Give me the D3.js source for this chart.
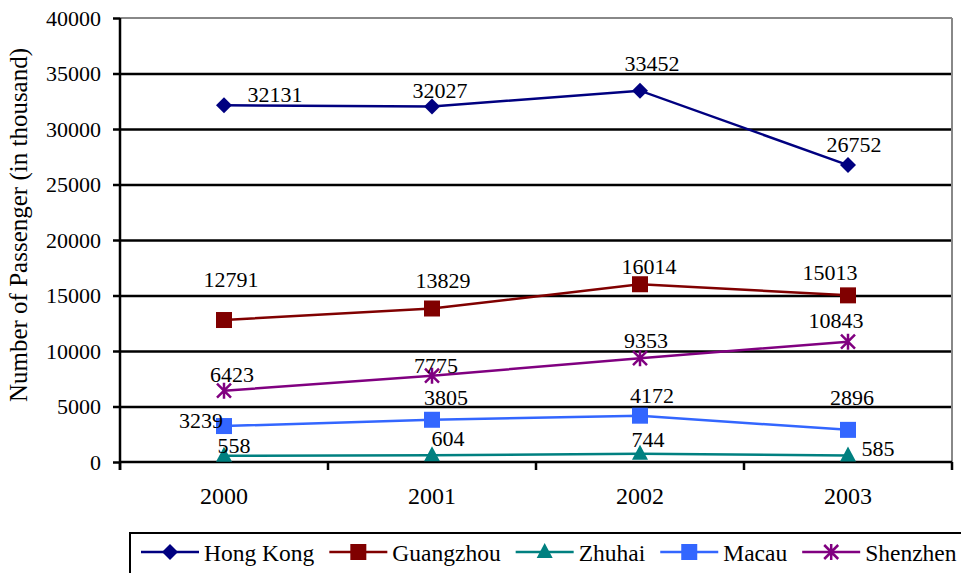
<!DOCTYPE html>
<html>
<head>
<meta charset="utf-8">
<script src="https://cdn.jsdelivr.net/npm/d3@7"></script>
<style>
  body { margin: 0; background: white; }
</style>
</head>
<body>
<script>
var years = ["2000", "2001", "2002", "2003"];
var hongKong = [32131, 32027, 33452, 26752];
var guangzhou = [12791, 13829, 16014, 15013];
var zhuhai = [558, 604, 744, 585];
var macau = [3239, 3805, 4172, 2896];
var shenzhen = [6423, 7775, 9353, 10843];
var yTicks = [0, 5000, 10000, 15000, 20000, 25000, 30000, 35000, 40000];

// label nudges (dx, dy from the point), like Excel put them
var labelNudge = {
  "Hong Kong": [[51, -3], [8, -9], [12, -20], [6, -13]],
  "Guangzhou": [[7, -33], [11, -20], [9, -10], [-18, -15]],
  "Zhuhai": [[10, -3], [16, -9], [8, -7], [30, 0]],
  "Macau": [[-23, 2], [14, -15], [12, -13], [4, -25]],
  "Shenzhen": [[8, -9], [4, -3], [6, -10], [-12, -14]]
};

var series = [
  { name: "Hong Kong", values: hongKong, color: "#000080", marker: "diamond" },
  { name: "Guangzhou", values: guangzhou, color: "#800000", marker: "square" },
  { name: "Zhuhai", values: zhuhai, color: "#008080", marker: "triangle" },
  { name: "Macau", values: macau, color: "#3366FF", marker: "square" },
  { name: "Shenzhen", values: shenzhen, color: "#800080", marker: "star" }
];

var FONT = "'Liberation Serif'";
var width = 961, height = 573;
var plot = { left: 120, right: 952, top: 18, bottom: 462 };

var svg = d3.select("body").append("svg")
  .attr("width", width)
  .attr("height", height)
  .style("display", "block")
  .style("font-family", FONT);

var x = d3.scaleBand().domain(years).range([plot.left, plot.right]).padding(0);
var y = d3.scaleLinear().domain([0, 40000]).range([plot.bottom, plot.top]);
function cx(i) { return x(years[i]) + x.bandwidth() / 2; }

// grid lines
svg.append("g")
  .attr("transform", "translate(" + plot.left + ",0)")
  .call(d3.axisLeft(y).tickValues(yTicks.slice(1, -1)).tickSize(-(plot.right - plot.left)).tickFormat(""))
  .call(function(g) {
    g.select(".domain").remove();
    g.selectAll("line").attr("stroke", "#000").attr("stroke-width", 2.5);
  });

// plot border top / right (grey)
svg.append("line").attr("x1", plot.left).attr("x2", plot.right)
  .attr("y1", plot.top).attr("y2", plot.top)
  .attr("stroke", "#888").attr("stroke-width", 2);
svg.append("line").attr("x1", plot.right).attr("x2", plot.right)
  .attr("y1", plot.top).attr("y2", plot.bottom)
  .attr("stroke", "#888").attr("stroke-width", 2);

// y axis
svg.append("g")
  .attr("transform", "translate(" + plot.left + ",0)")
  .call(d3.axisLeft(y).tickValues(yTicks).tickSize(7).tickPadding(12).tickFormat(d3.format("d")))
  .call(function(g) {
    g.select(".domain").remove();
    g.selectAll("line").attr("stroke", "#000").attr("stroke-width", 2.5);
    g.selectAll("text").attr("font-size", 22).attr("fill", "#000").style("font-family", FONT);
  });

// x axis labels
svg.append("g")
  .attr("transform", "translate(0," + plot.bottom + ")")
  .call(d3.axisBottom(x).tickSize(0).tickPadding(25))
  .call(function(g) {
    g.select(".domain").remove();
    g.selectAll("text").attr("font-size", 24).attr("fill", "#000").style("font-family", FONT);
  });

// x boundary ticks
var edges = years.map(function(d) { return x(d); }).concat([plot.right]);
svg.append("g").selectAll("line").data(edges).join("line")
  .attr("x1", function(d) { return d; }).attr("x2", function(d) { return d; })
  .attr("y1", plot.bottom).attr("y2", plot.bottom + 8)
  .attr("stroke", "#000").attr("stroke-width", 2.5);

// axis lines
svg.append("line").attr("x1", plot.left).attr("x2", plot.right)
  .attr("y1", plot.bottom).attr("y2", plot.bottom)
  .attr("stroke", "#000").attr("stroke-width", 2.5);
svg.append("line").attr("x1", plot.left).attr("x2", plot.left)
  .attr("y1", plot.top).attr("y2", plot.bottom + 8)
  .attr("stroke", "#000").attr("stroke-width", 2.5);

// y title
svg.append("text")
  .attr("transform", "translate(27,225) rotate(-90)")
  .attr("text-anchor", "middle")
  .attr("font-size", 25)
  .style("font-family", FONT)
  .text("Number of Passenger (in thousand)");

function drawMarker(g, type, color, px, py) {
  if (type === "diamond") {
    g.append("path")
      .attr("d", "M" + px + "," + (py - 8) + "L" + (px + 8) + "," + py + "L" + px + "," + (py + 8) + "L" + (px - 8) + "," + py + "Z")
      .attr("fill", color);
  } else if (type === "square") {
    g.append("rect").attr("x", px - 8).attr("y", py - 8)
      .attr("width", 16).attr("height", 16).attr("fill", color);
  } else if (type === "triangle") {
    g.append("path").attr("d", "M" + px + "," + (py - 9) + "L" + (px + 8) + "," + (py + 6) + "L" + (px - 8) + "," + (py + 6) + "Z")
      .attr("fill", color);
  } else {
    var r = 7;
    g.append("path")
      .attr("d", "M" + (px - r) + "," + (py - r) + "L" + (px + r) + "," + (py + r) +
        "M" + (px + r) + "," + (py - r) + "L" + (px - r) + "," + (py + r) +
        "M" + px + "," + (py - r - 1) + "L" + px + "," + (py + r + 1))
      .attr("stroke", color).attr("stroke-width", 2.5).attr("fill", "none");
  }
}

var line = d3.line()
  .x(function(d, i) { return cx(i); })
  .y(function(d) { return y(d); });

series.forEach(function(s) {
  var g = svg.append("g");
  g.append("path").datum(s.values)
    .attr("d", line)
    .attr("fill", "none")
    .attr("stroke", s.color)
    .attr("stroke-width", 2.5);
  s.values.forEach(function(v, i) { drawMarker(g, s.marker, s.color, cx(i), y(v)); });
});

// data labels on top
series.forEach(function(s) {
  svg.append("g").selectAll("text").data(s.values).join("text")
    .attr("x", function(d, i) { return cx(i) + labelNudge[s.name][i][0]; })
    .attr("y", function(d, i) { return y(d) + labelNudge[s.name][i][1]; })
    .attr("text-anchor", "middle")
    .attr("font-size", 22)
    .style("font-family", FONT)
    .text(function(d) { return d; });
});

// legend
var legend = svg.append("g");
legend.append("rect")
  .attr("x", 130).attr("y", 533)
  .attr("width", 860).attr("height", 60)
  .attr("fill", "white").attr("stroke", "#000").attr("stroke-width", 2);

var lx = 141, ly = 552;
series.forEach(function(s) {
  var g = legend.append("g");
  g.append("line").attr("x1", lx).attr("x2", lx + 58)
    .attr("y1", ly).attr("y2", ly)
    .attr("stroke", s.color).attr("stroke-width", 2.5);
  drawMarker(g, s.marker, s.color, lx + 29, ly);
  var t = g.append("text")
    .attr("x", lx + 63).attr("y", ly + 9)
    .attr("font-size", 23.5)
    .style("font-family", FONT)
    .text(s.name);
  lx += 63 + t.node().getComputedTextLength() + 15;
});
</script>
</body>
</html>
